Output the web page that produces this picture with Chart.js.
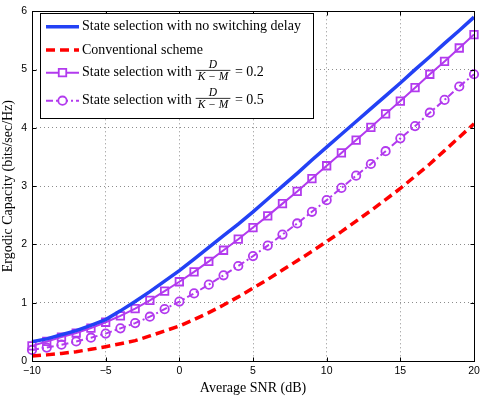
<!DOCTYPE html>
<html><head><meta charset="utf-8">
<script src="https://cdn.jsdelivr.net/npm/chart.js@4/dist/chart.umd.min.js"></script>
<style>html,body{margin:0;padding:0;background:#fff;} #wrap{width:485px;height:399px;}</style>
</head><body><div id="wrap"><canvas id="c" width="485" height="399"></canvas></div>
<script>
// ---- data ----
const snrDb = [-10,-9,-8,-7,-6,-5,-4,-3,-2,-1,0,1,2,3,4,5,6,7,8,9,10,11,12,13,14,15,16,17,18,19,20];
const capNoDelay = [0.33,0.38,0.45,0.52,0.61,0.71,0.86,1.02,1.19,1.37,1.55,1.75,1.95,2.15,2.35,2.56,2.78,3.00,3.22,3.45,3.67,3.89,4.11,4.33,4.55,4.77,5.00,5.22,5.45,5.67,5.90];
const capConventional = [0.085,0.105,0.13,0.16,0.20,0.245,0.295,0.35,0.43,0.515,0.60,0.71,0.83,0.96,1.10,1.25,1.40,1.56,1.72,1.88,2.05,2.22,2.40,2.58,2.77,2.96,3.17,3.38,3.61,3.84,4.07];
const capDelay02 = [0.26,0.335,0.41,0.48,0.565,0.665,0.775,0.90,1.04,1.20,1.36,1.53,1.71,1.90,2.09,2.29,2.49,2.70,2.91,3.13,3.35,3.57,3.79,4.01,4.24,4.46,4.69,4.92,5.14,5.37,5.60];
const capDelay05 = [0.19,0.23,0.28,0.335,0.40,0.47,0.56,0.65,0.76,0.89,1.02,1.16,1.31,1.47,1.63,1.80,1.98,2.17,2.36,2.56,2.76,2.97,3.18,3.38,3.60,3.82,4.03,4.26,4.48,4.71,4.92];
const xTickValues = [-10,-5,0,5,10,15,20];
const xTickLabels = ['\u221210','\u22125','0','5','10','15','20'];
const yTickValues = [0,1,2,3,4,5,6];
const yTickLabels = ['0','1','2','3','4','5','6'];
const seriesNames = ['State selection with no switching delay','Conventional scheme','State selection with','State selection with'];
const fracNumerator = 'D';
const fracDenominator = 'K \u2212 M';
const fracValues = [null,null,'0.2','0.5'];
const xTitle = 'Average SNR (dB)';
const yTitle = 'Ergodic Capacity (bits/sec/Hz)';

// ---- styles ----
const BLUE = '#2341f5', RED = '#ff0000', PURPLE = '#b23aee';
const SERIF = '"Liberation Serif", "Times New Roman", serif';
const SANS = '"Liberation Sans", Arial, sans-serif';

const pts = arr => arr.map((v,i)=>({x:snrDb[i], y:v}));

const datasets = [
  {data:pts(capNoDelay), borderColor:BLUE, borderWidth:3.5, pointRadius:0},
  {data:pts(capConventional), borderColor:RED, borderWidth:3.5, borderDash:[9,5], pointRadius:0},
  {data:pts(capDelay02), borderColor:PURPLE, borderWidth:2, pointStyle:'rect', pointRadius:5.3, pointBorderWidth:1.8, pointBorderColor:PURPLE, pointBackgroundColor:'rgba(0,0,0,0)'},
  {data:pts(capDelay05), borderColor:PURPLE, borderWidth:2, borderDash:[7,3,2,3], pointStyle:'circle', pointRadius:4.2, pointBorderWidth:1.8, pointBorderColor:PURPLE, pointBackgroundColor:'rgba(0,0,0,0)'}
].map(d=>Object.assign({fill:false, tension:0, clip:false, pointHoverRadius:0}, d));

const framePlugin = {
  id:'frame',
  afterDraw(chart){
    const {ctx, chartArea:a, scales:{x,y}} = chart;
    ctx.save();
    ctx.strokeStyle='#000'; ctx.lineWidth=1; ctx.setLineDash([]);
    const L=Math.round(a.left)+0.5, R=Math.round(a.right)+0.5, T=Math.round(a.top)+0.5, B=Math.round(a.bottom)+0.5;
    ctx.strokeRect(L,T,R-L,B-T);
    ctx.beginPath();
    xTickValues.forEach(v=>{const p=Math.round(x.getPixelForValue(v))+0.5; ctx.moveTo(p,B); ctx.lineTo(p,B-4); ctx.moveTo(p,T); ctx.lineTo(p,T+4);});
    yTickValues.forEach(v=>{const p=Math.round(y.getPixelForValue(v))+0.5; ctx.moveTo(L,p); ctx.lineTo(L+4,p); ctx.moveTo(R,p); ctx.lineTo(R-4,p);});
    ctx.stroke();

    // legend
    const bx=40.5, by=13.5, bw=273, bh=105;
    ctx.fillStyle='#fff'; ctx.fillRect(bx,by,bw,bh);
    ctx.strokeStyle='#000'; ctx.lineWidth=1; ctx.strokeRect(bx,by,bw,bh);
    const rows=[26.7,50,72.7,100.7];
    const x1=46, x2=79, tx=82;
    chart.data.datasets.forEach((ds,i)=>{
      const ry=rows[i];
      ctx.save();
      ctx.strokeStyle=ds.borderColor; ctx.lineWidth=ds.borderWidth;
      ctx.setLineDash(ds.borderDash||[]);
      ctx.beginPath(); ctx.moveTo(x1,ry); ctx.lineTo(x2,ry); ctx.stroke();
      ctx.setLineDash([]);
      if(ds.pointRadius>0){
        ctx.lineWidth=ds.pointBorderWidth; ctx.strokeStyle=ds.pointBorderColor; ctx.fillStyle='#fff';
        Chart.helpers.drawPoint(ctx,{pointStyle:ds.pointStyle, radius:ds.pointRadius, borderWidth:ds.pointBorderWidth, rotation:0}, (x1+x2)/2, ry);
      }
      ctx.restore();
      ctx.fillStyle='#000';
      ctx.font='14px '+SERIF; ctx.textBaseline='middle'; ctx.textAlign='left';
      ctx.fillText(seriesNames[i], tx, ry);
      if(fracValues[i]){
        let cx = tx + ctx.measureText(seriesNames[i]).width + 4;
        ctx.font='italic 11.5px '+SERIF;
        const wd=ctx.measureText(fracDenominator).width;
        const fw=wd+4;
        ctx.textAlign='center';
        ctx.fillText(fracNumerator, cx+fw/2, ry-7.5);
        ctx.fillText(fracDenominator, cx+fw/2, ry+4.5);
        ctx.fillRect(cx, ry-2.8, fw, 0.8);
        ctx.textAlign='left';
        ctx.font='14px '+SERIF;
        ctx.fillText(' = '+fracValues[i], cx+fw+1, ry);
      }
    });
    ctx.restore();
  }
};

new Chart(document.getElementById('c'), {
  type:'line',
  data:{datasets},
  options:{
    responsive:false, animation:false, devicePixelRatio:1,
    layout:{padding:{left:0,right:11,top:8,bottom:0}},
    plugins:{legend:{display:false}, tooltip:{enabled:false}},
    elements:{line:{borderCapStyle:'butt'}},
    scales:{
      x:{type:'linear', min:-10, max:20,
        afterBuildTicks:s=>{s.ticks=xTickValues.map(v=>({value:v}));},
        ticks:{callback:v=>xTickLabels[xTickValues.indexOf(v)], font:{family:SANS,size:10.5}, color:'#000', padding:4, maxRotation:0, autoSkip:false},
        grid:{color:'rgba(0,0,0,0.45)', lineWidth:1, drawTicks:false},
        border:{display:false, dash:[1,3]},
        title:{display:true, text:xTitle, font:{family:SERIF,size:14}, color:'#000', padding:{top:0,bottom:2}},
        afterFit:s=>{s.height=38;}
      },
      y:{type:'linear', min:0, max:6,
        afterBuildTicks:s=>{s.ticks=yTickValues.map(v=>({value:v}));},
        ticks:{callback:v=>yTickLabels[yTickValues.indexOf(v)], font:{family:SANS,size:10.5}, color:'#000', padding:5, autoSkip:false},
        grid:{color:'rgba(0,0,0,0.45)', lineWidth:1, drawTicks:false},
        border:{display:false, dash:[1,3]},
        title:{display:true, text:yTitle, font:{family:SERIF,size:14}, color:'#000', padding:{top:0,bottom:0}},
        afterFit:s=>{s.width=32;}
      }
    }
  },
  plugins:[framePlugin]
});
</script></body></html>
